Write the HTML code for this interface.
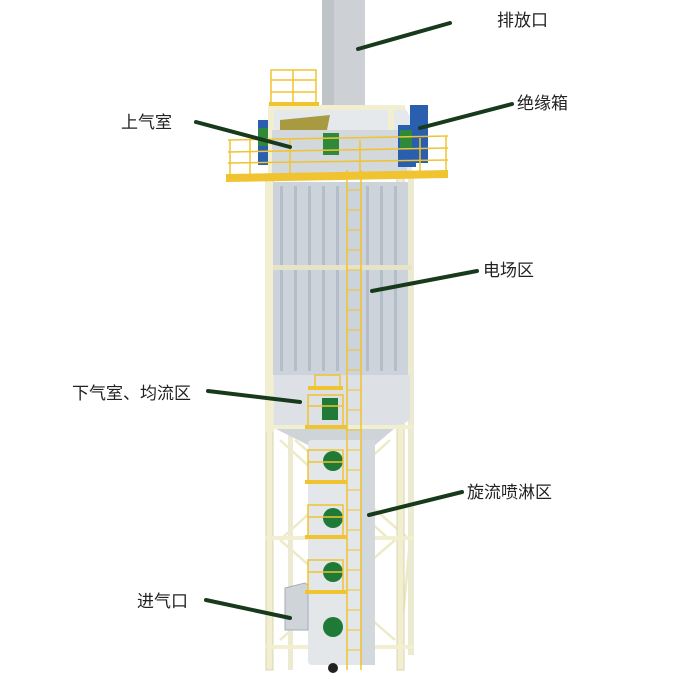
<!DOCTYPE html>
<html><head><meta charset="utf-8"><style>
body{margin:0;background:#fff;width:698px;height:677px;overflow:hidden}
svg{display:block}
text{font-family:"Liberation Sans","Noto Sans CJK SC",sans-serif;font-size:17px;fill:#222}
</style></head><body>
<svg width="698" height="677" viewBox="0 0 698 677">
<g stroke="#ecebc8" stroke-width="2.5" fill="none">
<line x1="280" y1="440" x2="390" y2="540"/><line x1="390" y1="440" x2="280" y2="540"/>
<line x1="280" y1="540" x2="395" y2="640"/><line x1="395" y1="540" x2="280" y2="640"/>
<line x1="295" y1="440" x2="410" y2="540"/><line x1="410" y1="540" x2="400" y2="650"/>
</g>
<rect x="266" y="175" width="7" height="495" fill="#f2efd0" stroke="#d8d5b0" stroke-width="1"/>
<rect x="397" y="175" width="7" height="495" fill="#f2efd0" stroke="#d8d5b0" stroke-width="1"/>
<rect x="408" y="175" width="6" height="480" fill="#ecead0"/>
<rect x="288" y="430" width="5" height="240" fill="#ecead0"/>
<rect x="266" y="536" width="148" height="4" fill="#f2efd0"/>
<rect x="266" y="645" width="148" height="4" fill="#f2efd0"/>
<rect x="322" y="0" width="43" height="108" fill="#cdd1d5"/>
<rect x="322" y="0" width="12" height="108" fill="#bfc4c9"/>
<polygon points="268,108 405,108 412,120 412,175 270,175" fill="#e6e9ec"/>
<polygon points="280,120 330,115 325,140 280,140" fill="#a89a40"/>
<rect x="268" y="105" width="137" height="5" fill="#f2efd0"/>
<rect x="268" y="105" width="6" height="70" fill="#f2efd0"/>
<rect x="388" y="105" width="6" height="70" fill="#f2efd0"/>
<rect x="272" y="130" width="135" height="45" fill="#d3d8dd"/>
<rect x="323" y="133" width="16" height="22" fill="#2e8a3a"/>
<rect x="258" y="120" width="10" height="45" fill="#2a5fb0"/>
<rect x="258" y="128" width="10" height="18" fill="#2e8a3a"/>
<rect x="410" y="105" width="18" height="58" fill="#2a5fb0"/>
<rect x="398" y="125" width="18" height="42" fill="#2a5fb0"/>
<rect x="400" y="130" width="12" height="18" fill="#2e8a3a"/>
<g stroke="#f0c330" stroke-width="1.5" fill="none">
<rect x="271" y="70" width="45" height="35"/><line x1="271" y1="80" x2="316" y2="80"/><line x1="271" y1="92" x2="316" y2="92"/><line x1="293" y1="70" x2="293" y2="105"/>
</g>
<rect x="269" y="102" width="50" height="4" fill="#f0c330"/>
<g stroke="#f0c330" stroke-width="1.5" fill="none">
<line x1="228" y1="140" x2="448" y2="136"/><line x1="228" y1="152" x2="448" y2="148"/><line x1="228" y1="163" x2="448" y2="160"/>
<line x1="230" y1="140" x2="230" y2="177"/><line x1="250" y1="140" x2="250" y2="177"/><line x1="290" y1="140" x2="290" y2="177"/><line x1="360" y1="140" x2="360" y2="177"/><line x1="420" y1="138" x2="420" y2="177"/><line x1="446" y1="136" x2="446" y2="177"/>
</g>
<polygon points="226,174 448,170 448,178 226,182" fill="#f0c330"/>
<rect x="272" y="182" width="136" height="193" fill="#ccd3da"/>
<g fill="#b4bec8">
<rect x="280" y="186" width="3" height="185"/><rect x="294" y="186" width="3" height="185"/><rect x="308" y="186" width="3" height="185"/><rect x="322" y="186" width="3" height="185"/><rect x="336" y="186" width="3" height="185"/><rect x="366" y="186" width="3" height="185"/><rect x="380" y="186" width="3" height="185"/><rect x="394" y="186" width="3" height="185"/>
</g>
<rect x="272" y="265" width="140" height="5" fill="#e6e3c8"/>
<rect x="266" y="182" width="7" height="250" fill="#f2efd0"/>
<polygon points="274,375 410,375 410,420 395,428 274,428" fill="#dde1e5"/>
<polygon points="274,428 395,428 375,445 308,445" fill="#cfd4d8"/>
<rect x="266" y="425" width="148" height="4" fill="#f2efd0"/>
<rect x="308" y="440" width="67" height="225" rx="4" fill="#e3e7ea"/>
<rect x="360" y="440" width="15" height="225" fill="#d3d8dd"/>
<circle cx="333" cy="668" r="5" fill="#222"/>
<polygon points="285,588 305,583 308,585 308,630 285,630" fill="#cfd4d8" stroke="#aab" stroke-width="1"/>
<circle cx="333" cy="461" r="10" fill="#1e7a36"/>
<circle cx="333" cy="518" r="10" fill="#1e7a36"/>
<circle cx="333" cy="572" r="10" fill="#1e7a36"/>
<circle cx="333" cy="627" r="10" fill="#1e7a36"/>
<rect x="322" y="398" width="16" height="22" fill="#1e7a36"/>
<g stroke="#f0c330" stroke-width="1.5" fill="none">
<rect x="308" y="395" width="35" height="32"/><rect x="308" y="450" width="35" height="32"/><rect x="308" y="505" width="35" height="32"/><rect x="308" y="560" width="35" height="32"/>
<line x1="308" y1="406" x2="343" y2="406"/><line x1="308" y1="462" x2="343" y2="462"/><line x1="308" y1="517" x2="343" y2="517"/><line x1="308" y1="572" x2="343" y2="572"/>
<rect x="315" y="375" width="25" height="12"/>
</g>
<g fill="#f0c330">
<rect x="305" y="425" width="42" height="4"/><rect x="305" y="480" width="42" height="4"/><rect x="305" y="535" width="42" height="4"/><rect x="305" y="590" width="42" height="4"/><rect x="308" y="386" width="35" height="4"/>
</g>
<g stroke="#f0c330" stroke-width="1.5">
<line x1="347" y1="170" x2="347" y2="670"/><line x1="361" y1="170" x2="361" y2="670"/>
</g>
<g stroke="#f0c330" stroke-width="1">
<line x1="347" y1="190" x2="361" y2="190"/><line x1="347" y1="210" x2="361" y2="210"/><line x1="347" y1="230" x2="361" y2="230"/><line x1="347" y1="250" x2="361" y2="250"/><line x1="347" y1="270" x2="361" y2="270"/><line x1="347" y1="290" x2="361" y2="290"/><line x1="347" y1="310" x2="361" y2="310"/><line x1="347" y1="330" x2="361" y2="330"/><line x1="347" y1="350" x2="361" y2="350"/><line x1="347" y1="370" x2="361" y2="370"/><line x1="347" y1="390" x2="361" y2="390"/><line x1="347" y1="410" x2="361" y2="410"/><line x1="347" y1="430" x2="361" y2="430"/><line x1="347" y1="450" x2="361" y2="450"/><line x1="347" y1="470" x2="361" y2="470"/><line x1="347" y1="490" x2="361" y2="490"/><line x1="347" y1="510" x2="361" y2="510"/><line x1="347" y1="530" x2="361" y2="530"/><line x1="347" y1="550" x2="361" y2="550"/><line x1="347" y1="570" x2="361" y2="570"/><line x1="347" y1="590" x2="361" y2="590"/><line x1="347" y1="610" x2="361" y2="610"/><line x1="347" y1="630" x2="361" y2="630"/><line x1="347" y1="650" x2="361" y2="650"/>
</g>
<g stroke="#173a1c" stroke-width="4" stroke-linecap="round">
<line x1="358" y1="49" x2="450" y2="23"/>
<line x1="420" y1="128" x2="512" y2="104"/>
<line x1="196" y1="122" x2="290" y2="147"/>
<line x1="372" y1="291" x2="477" y2="271"/>
<line x1="208" y1="391" x2="300" y2="402"/>
<line x1="369" y1="515" x2="462" y2="492"/>
<line x1="206" y1="600" x2="290" y2="618"/>
</g>
<text x="497" y="26">排放口</text>
<text x="517" y="109">绝缘箱</text>
<text x="121" y="128">上气室</text>
<text x="483" y="276">电场区</text>
<text x="72" y="399">下气室、均流区</text>
<text x="467" y="498">旋流喷淋区</text>
<text x="137" y="607">进气口</text>
</svg>
</body></html>
